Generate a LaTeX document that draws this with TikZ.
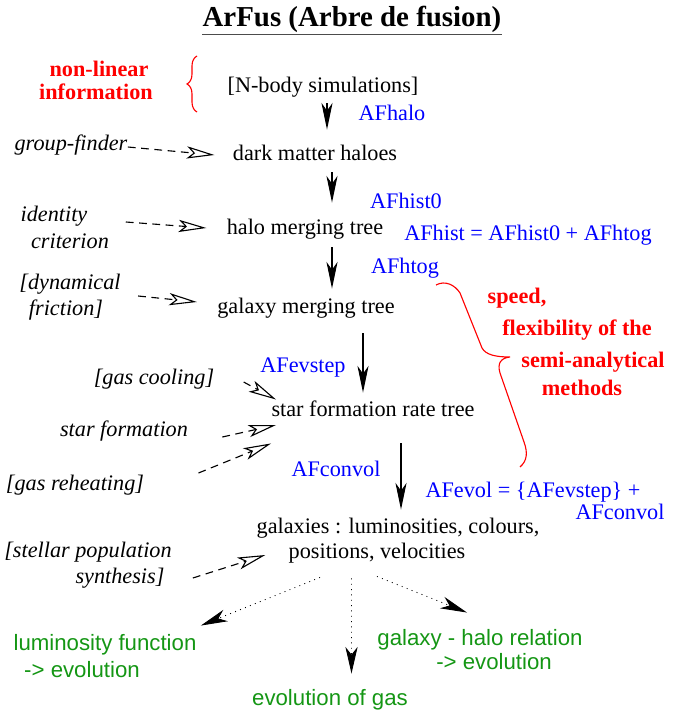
\documentclass[tikz,border=0pt]{standalone}
\usepackage{fontspec}
\setmainfont{Liberation Serif}
\setsansfont{Liberation Sans}
\usetikzlibrary{arrows.meta,decorations.pathreplacing}
\definecolor{afblue}{rgb}{0,0,1}
\definecolor{afred}{rgb}{1,0,0}
\definecolor{afgreen}{RGB}{20,150,20}

\begin{document}
\begin{tikzpicture}[%
      x=0.45pt, y=-0.45pt,
      every node/.style={inner sep=0pt, text height=7pt, text depth=2pt,
        font=\fontsize{10}{12}\selectfont},
      hint/.style={font=\fontsize{10}{12}\selectfont\itshape},
      code/.style={color=afblue},
      note/.style={color=afred, font=\fontsize{10}{12}\selectfont\bfseries},
      obs/.style={color=afgreen, font=\fontsize{10}{12}\selectfont\sffamily},
      flow/.style={-{Stealth[length=12pt,width=5pt,inset=3.5pt]}, line width=0.5pt},
      input/.style={dash pattern=on 3.5pt off 2.5pt, line width=0.5pt,
        -{Stealth[open,length=12.5pt,width=5.5pt,inset=3pt]}},
      derive/.style={dash pattern=on 0.4pt off 2pt, line width=0.4pt,
        -{Stealth[length=12pt,width=5.5pt,inset=3.5pt]}},
      ]
      \useasboundingbox (0,0) rectangle (680,711);

      % title
      \node[anchor=base, text height=, text depth=, font=\fontsize{13}{15}\selectfont\bfseries]
        (title) at (352,27) {ArFus (Arbre de fusion)};
      \draw[color=black!70, line width=0.8pt] ([shift={(0,7.5)}]title.base west) -- ([shift={(0,7.5)}]title.base east);

      % main chain
      \node (nbody) at (323,87) {[N-body simulations]};
      \node (halos) at (315,155) {dark matter haloes};
      \node (halotree) at (305,229) {halo merging tree};
      \node (galtree) at (306,308) {galaxy merging tree};
      \node (sfrtree) at (373,411) {star formation rate tree};
      \node (galA) at (398,528) {galaxies : luminosities, colours,};
      \node (galB) at (377,553) {positions, velocities};

      \draw[flow] ([shift={(4,6)}]nbody.south) -- ([shift={(12,-15)}]halos.north);
      \draw[flow] ([shift={(17,7)}]halos.south) -- ([shift={(27,-16)}]halotree.north);
      \draw[flow] ([shift={(27,8)}]halotree.south) -- ([shift={(26,-9)}]galtree.north);
      \draw[flow] ([shift={(57,15)}]galtree.south) -- ([shift={(-10,-8)}]sfrtree.north);
      \draw[flow] ([shift={(28,22)}]sfrtree.south) -- ([shift={(3,-8)}]galA.north);

      % code names
      \node[code] (afhalo) at (392,115) {AFhalo};
      \node[code] (afhistz) at (406,203) {AFhist0};
      \node[code] (afhist) at (528,235) {AFhist = AFhist0 + AFhtog};
      \node[code] (afhtog) at (405,268) {AFhtog};
      \node[code] (afevstep) at (303,367) {AFevstep};
      \node[code] (afconvol) at (336,471) {AFconvol};
      \node[code] (afevolA) at (533,492) {AFevol = \{AFevstep\} +};
      \node[code] (afevolB) at (620,514) {AFconvol};

      % physics put in
      \node[hint] (grpfind) at (71,145) {group-finder};
      \node[hint] (identA) at (54,216) {identity};
      \node[hint] (identB) at (70,243) {criterion};
      \node[hint] (dynA) at (70,284) {[dynamical};
      \node[hint] (dynB) at (66,310) {friction]};
      \node[hint] (cooling) at (154,379) {[gas cooling]};
      \node[hint] (starform) at (124,431) {star formation};
      \node[hint] (reheat) at (75,485) {[gas reheating]};
      \node[hint] (stellarA) at (88,552) {[stellar population};
      \node[hint] (stellarB) at (120,578) {synthesis]};

      \draw[input] ([shift={(0,2)}]grpfind.east) -- ([shift={(-18,0)}]halos.west);
      \draw[input] ([shift={(38,6)}]identA.east) -- ([shift={(-20,-1)}]halotree.west);
      \draw[input] ([shift={(17,12)}]dynA.east) -- ([shift={(-20,-6)}]galtree.west);
      \draw[input] ([shift={(29,3)}]cooling.east) -- ([shift={(5,-1)}]sfrtree.north west);
      \draw[input] ([shift={(34,6)}]starform.east) -- ([shift={(5,14)}]sfrtree.west);
      \draw[input] ([shift={(54,-12)}]reheat.east) -- ([shift={(0,22)}]sfrtree.south west);
      \draw[input] ([shift={(28,0)}]stellarB.east) -- ([shift={(-23,2)}]galB.west);

      % red remarks
      \node[note] (nonlinA) at (99,71) {non-linear};
      \node[note] (nonlinB) at (96,94) {information};
      \draw[color=afred, line width=0.5pt, decorate, decoration={brace, amplitude=4.5pt}]
        (197,112) -- (197,56);

      \node[note] (speedA) at (517,298) {speed,};
      \node[note] (speedB) at (577,330) {flexibility of the};
      \node[note] (speedC) at (593,362) {semi-analytical};
      \node[note] (speedD) at (582,390) {methods};
      \draw[color=afred, line width=0.5pt]
        (436,285) .. controls (445,280) and (455,285) .. (460,293) -- (482,348)
        .. controls (486,355) and (496,357) .. (510,357)
        .. controls (501,358) and (497,363) .. (500,373) -- (524,442)
        .. controls (528,453) and (527,461) .. (520,467);

      % results
      \node[obs] (lumA) at (105,645) {luminosity function};
      \node[obs] (lumB) at (82,672) {-> evolution};
      \node[obs] (gasevol) at (330,700) {evolution of gas};
      \node[obs] (relA) at (480,640) {galaxy - halo relation};
      \node[obs] (relB) at (494,664) {-> evolution};

      \draw[derive] ([shift={(-57,14)}]galB.south) -- ([shift={(4,-9)}]lumA.north east);
      \draw[derive] ([shift={(-25.5,15)}]galB.south) -- ([shift={(21.5,-16)}]gasevol.north);
      \draw[derive] ([shift={(0,13)}]galB.south) -- ([shift={(-13,-17)}]relA.north);
\end{tikzpicture}
\end{document}
